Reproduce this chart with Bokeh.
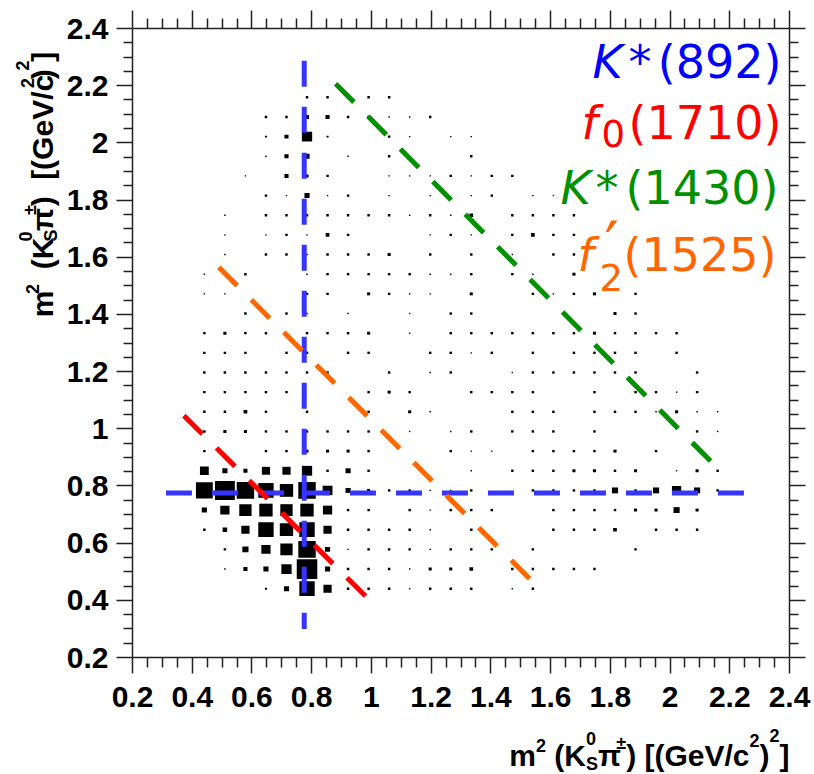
from bokeh.plotting import figure
from bokeh.layouts import row, column
from bokeh.models import (LinearAxis, FixedTicker, CustomJSTickFormatter,
                          Label, Range1d, ColumnDataSource)
from bokeh.embed import file_html
from bokeh.resources import INLINE

# ---------------- binning of the Dalitz histogram ----------------
X_MIN, X_MAX = 0.2, 2.4
Y_MIN, Y_MAX = 0.2, 2.4
N_BINS = 32
MAX_COUNT = 100.0

# axis ticks
MAJOR_TICKS = [0.2, 0.4, 0.6, 0.8, 1.0, 1.2, 1.4, 1.6, 1.8, 2.0, 2.2, 2.4]
MINOR_TICKS = [round(0.2 + 0.05 * k, 2) for k in range(45) if k % 4]

# bin contents, one row of bins per pair of lists (row index = y bin)
row03_cols = [6, 7, 8, 9, 10, 11, 12, 13, 14, 15, 16, 18, 19]
row03_cnts = [10, 25, 75, 40, 12, 12, 12, 7, 12, 12, 12, 7, 12]
row04_cols = [4, 5, 6, 7, 8, 9, 10, 11, 12, 13, 14, 15, 16, 18, 19, 20, 21, 22]
row04_cnts = [7, 20, 25, 50, 100, 25, 12, 12, 12, 7, 15, 15, 18, 12, 12, 12, 12, 12]
row05_cols = [4, 5, 6, 7, 8, 9, 10, 11, 12, 13, 14, 15, 16, 17, 19, 24]
row05_cnts = [12, 30, 45, 60, 85, 25, 7, 12, 12, 12, 7, 12, 12, 12, 12, 12]
row06_cols = [3, 4, 5, 6, 7, 8, 9, 10, 11, 12, 13, 14, 16, 20, 21, 22, 23, 25, 26, 27]
row06_cnts = [12, 22, 40, 75, 65, 75, 40, 12, 12, 12, 12, 7, 12, 12, 12, 12, 18, 12, 12, 12]
row07_cols = [3, 4, 5, 6, 7, 8, 9, 10, 11, 13, 14, 15, 16, 17, 20, 21, 22, 23, 24, 25, 26, 27]
row07_cnts = [25, 45, 60, 65, 60, 65, 45, 12, 12, 12, 7, 12, 12, 12, 12, 12, 12, 12, 15, 15, 30, 15]
row08_cols = [3, 4, 5, 6, 7, 8, 9, 10, 11, 12, 13, 14, 15, 16, 19, 20, 21, 22, 23, 24, 25, 26, 27, 28]
row08_cnts = [82, 97, 85, 75, 65, 85, 48, 25, 15, 12, 12, 7, 7, 12, 12, 12, 12, 12, 30, 12, 30, 45, 30, 12]
row09_cols = [3, 4, 5, 6, 7, 8, 9, 10, 11, 16, 18, 19, 20, 21, 22, 23, 24, 26, 27, 28]
row09_cnts = [43, 25, 20, 40, 40, 50, 12, 25, 12, 7, 12, 12, 12, 15, 15, 12, 15, 7, 15, 12]
row10_cols = [3, 6, 7, 8, 9, 10, 11, 15, 16, 17, 19, 20, 21, 22, 23, 25]
row10_cnts = [12, 12, 12, 15, 15, 15, 12, 12, 7, 7, 12, 12, 12, 12, 15, 12]
row11_cols = [3, 4, 5, 6, 7, 8, 9, 10, 11, 13, 15, 16, 18, 19, 20, 22, 27, 28]
row11_cnts = [12, 15, 15, 12, 12, 12, 12, 12, 12, 7, 7, 12, 12, 12, 12, 12, 12, 7]
row12_cols = [3, 4, 5, 6, 8, 11, 13, 14, 18, 19, 20, 22, 23, 24, 25, 26, 27, 28]
row12_cnts = [12, 12, 18, 12, 12, 12, 15, 7, 12, 12, 12, 12, 12, 12, 7, 15, 7, 7]
row13_cols = [3, 4, 5, 6, 7, 11, 12, 13, 16, 17, 18, 19, 22, 24, 25, 26, 27]
row13_cnts = [12, 12, 12, 12, 12, 12, 15, 12, 12, 12, 12, 12, 12, 12, 12, 7, 12]
row14_cols = [3, 4, 5, 6, 7, 8, 9, 12, 14, 15, 18, 19, 20, 21, 22, 23, 24, 27]
row14_cnts = [12, 12, 12, 12, 12, 12, 12, 12, 7, 12, 7, 12, 12, 12, 12, 12, 12, 12]
row15_cols = [3, 4, 5, 7, 8, 10, 11, 14, 15, 16, 17, 19, 21, 22, 23, 24, 26]
row15_cnts = [12, 12, 12, 12, 12, 12, 12, 12, 12, 7, 12, 12, 12, 12, 12, 12, 12]
row16_cols = [3, 4, 5, 6, 8, 9, 10, 11, 13, 15, 16, 17, 18, 19, 20, 21, 22, 23, 24, 25, 26]
row16_cnts = [12, 15, 12, 12, 12, 12, 12, 15, 7, 12, 12, 12, 12, 12, 12, 12, 15, 12, 12, 12, 12]
row17_cols = [5, 7, 8, 10, 13, 15, 16, 23, 24]
row17_cnts = [12, 12, 7, 7, 7, 12, 12, 15, 12]
row18_cols = [3, 4, 8, 9, 11, 12, 13, 14, 16, 19, 20, 21, 22, 24]
row18_cnts = [7, 7, 12, 12, 15, 12, 7, 7, 15, 12, 7, 12, 15, 12]
row19_cols = [3, 5, 8, 9, 10, 11, 12, 13, 14, 15, 16, 18, 19, 21]
row19_cnts = [7, 12, 7, 12, 12, 12, 12, 12, 7, 7, 12, 12, 7, 15]
row20_cols = [4, 6, 7, 8, 9, 10, 11, 12, 14, 16, 18, 20, 21]
row20_cnts = [7, 12, 12, 7, 12, 12, 12, 15, 12, 12, 7, 12, 12]
row21_cols = [4, 6, 7, 8, 9, 10, 14, 15, 16, 18, 19, 20, 21]
row21_cnts = [7, 7, 12, 7, 18, 12, 7, 12, 7, 12, 18, 12, 12]
row22_cols = [4, 6, 7, 8, 9, 10, 11, 12, 13, 14, 15, 16, 18, 19, 20, 21]
row22_cnts = [7, 12, 12, 12, 12, 12, 12, 12, 7, 12, 7, 18, 12, 12, 12, 12]
row23_cols = [6, 7, 8, 9, 10, 12, 14, 16, 17, 19, 20]
row23_cnts = [12, 7, 25, 7, 12, 7, 7, 7, 12, 7, 7]
row24_cols = [5, 7, 8, 9, 12, 13, 14, 15, 16, 17, 18]
row24_cnts = [7, 20, 15, 12, 7, 7, 7, 12, 7, 12, 12]
row25_cols = [6, 7, 8, 10, 12, 16]
row25_cnts = [7, 20, 25, 7, 12, 12]
row26_cols = [6, 7, 8, 9, 12, 13, 15, 16]
row26_cnts = [10, 20, 50, 10, 12, 7, 7, 7]
row27_cols = [6, 7, 8, 9, 10, 11, 12, 13, 14]
row27_cnts = [12, 12, 20, 20, 12, 12, 7, 7, 12]
row28_cols = [8, 9, 11, 12]
row28_cnts = [12, 12, 12, 12]

ROWS = [
    (3, row03_cols, row03_cnts), (4, row04_cols, row04_cnts), (5, row05_cols, row05_cnts),
    (6, row06_cols, row06_cnts), (7, row07_cols, row07_cnts), (8, row08_cols, row08_cnts),
    (9, row09_cols, row09_cnts), (10, row10_cols, row10_cnts), (11, row11_cols, row11_cnts),
    (12, row12_cols, row12_cnts), (13, row13_cols, row13_cnts), (14, row14_cols, row14_cnts),
    (15, row15_cols, row15_cnts), (16, row16_cols, row16_cnts), (17, row17_cols, row17_cnts),
    (18, row18_cols, row18_cnts), (19, row19_cols, row19_cnts), (20, row20_cols, row20_cnts),
    (21, row21_cols, row21_cnts), (22, row22_cols, row22_cnts), (23, row23_cols, row23_cnts),
    (24, row24_cols, row24_cnts), (25, row25_cols, row25_cnts), (26, row26_cols, row26_cnts),
    (27, row27_cols, row27_cnts), (28, row28_cols, row28_cnts),
]

# ---------------- resonance bands ----------------
KSTAR892_M2 = 0.775
KSTAR892_H_X = [0.312, 2.26]      # horizontal band extent
KSTAR892_V_Y = [2.287, 0.30]      # vertical band extent
F0_1710_X = [0.372, 0.986]
F0_1710_Y = [1.046, 0.409]
F2_1525_X = [0.489, 1.539]
F2_1525_Y = [1.565, 0.466]
KSTAR1430_X = [0.880, 2.147]
KSTAR1430_Y = [2.207, 0.875]

C_BLUE_LINE = "#3535ff"
C_BLUE = "#0000ff"
C_RED = "#ff0000"
C_GREEN = "#009000"
C_ORANGE = "#ff6600"

# ---------------- page geometry (pixels) ----------------
PAGE_W, PAGE_H = 814, 774
FR_L, FR_R, FR_T, FR_B = 132, 789, 28, 657     # frame edges on the page
LEFT_W = 60                                      # strip holding the y title
MAIN_H = 719                                     # height of main figure
FRAME_W, FRAME_H = FR_R - FR_L, FR_B - FR_T
BL = 0.27                                        # label baseline correction (em)

p = figure(frame_width=FRAME_W, frame_height=FRAME_H,
           x_range=Range1d(X_MIN, X_MAX), y_range=Range1d(Y_MIN, Y_MAX),
           output_backend="svg", toolbar_location=None,
           min_border_left=FR_L - LEFT_W, min_border_right=PAGE_W - FR_R,
           min_border_top=FR_T, min_border_bottom=MAIN_H - FR_B,
           background_fill_color="white", border_fill_color="white")
p.outline_line_color = None
p.xgrid.visible = False
p.ygrid.visible = False

bw_x = (X_MAX - X_MIN) / N_BINS
bw_y = (Y_MAX - Y_MIN) / N_BINS
xs, ys, ws, hs = [], [], [], []
for iy, cols, cnts in ROWS:
    for ix, c in zip(cols, cnts):
        xs.append(X_MIN + (ix + 0.5) * bw_x)
        ys.append(Y_MIN + (iy + 0.5) * bw_y)
        ws.append(bw_x * c / MAX_COUNT)
        hs.append(bw_y * c / MAX_COUNT)
src = ColumnDataSource(dict(x=xs, y=ys, w=ws, h=hs))
p.rect(x="x", y="y", width="w", height="h", source=src,
       fill_color="black", line_color=None)

DASH = "26 20"
LW = 5
p.line(KSTAR892_H_X, [KSTAR892_M2, KSTAR892_M2], line_color=C_BLUE_LINE, line_width=LW, line_dash=DASH)
p.line([KSTAR892_M2, KSTAR892_M2], KSTAR892_V_Y, line_color=C_BLUE_LINE, line_width=LW, line_dash=DASH)
p.line(F0_1710_X, F0_1710_Y, line_color=C_RED, line_width=LW, line_dash=DASH)
p.line(F2_1525_X, F2_1525_Y, line_color=C_ORANGE, line_width=LW, line_dash=DASH)
p.line(KSTAR1430_X, KSTAR1430_Y, line_color=C_GREEN, line_width=LW, line_dash=DASH)

# ---------------- axes ----------------
fmt = CustomJSTickFormatter(code="return (Math.round(tick*10)/10).toString();")
blank = CustomJSTickFormatter(code="return '';")
AX_COLOR = "#222222"


def style_axis(ax, tick_out, minor_out, labels=True, standoff=5):
    ax.ticker = FixedTicker(ticks=MAJOR_TICKS, minor_ticks=MINOR_TICKS)
    ax.major_tick_in = 0
    ax.minor_tick_in = 0
    ax.major_tick_out = tick_out
    ax.minor_tick_out = minor_out
    ax.axis_line_color = AX_COLOR
    ax.axis_line_width = 1.5
    ax.major_tick_line_color = AX_COLOR
    ax.major_tick_line_width = 1.5
    ax.minor_tick_line_color = AX_COLOR
    ax.minor_tick_line_width = 1.5
    ax.axis_label = None
    if labels:
        ax.formatter = fmt
        ax.major_label_text_font = "Liberation Sans"
        ax.major_label_text_font_style = "bold"
        ax.major_label_text_font_size = "30px"
        ax.major_label_text_color = "black"
        ax.major_label_standoff = standoff
    else:
        ax.formatter = blank
        ax.major_label_text_font_size = "0px"
        ax.major_label_standoff = 0


style_axis(p.xaxis[0], 16, 10, True, 13)
style_axis(p.yaxis[0], 16, 9, True, 8)
top_ax = LinearAxis()
style_axis(top_ax, 18, 10, False)
p.add_layout(top_ax, "above")
right_ax = LinearAxis()
style_axis(right_ax, 16, 9, False)
p.add_layout(right_ax, "right")

# ---------------- side strips for the axis titles ----------------
pl = figure(width=LEFT_W, height=MAIN_H, x_range=Range1d(0, LEFT_W), y_range=Range1d(0, MAIN_H),
            output_backend="svg", toolbar_location=None, x_axis_type=None, y_axis_type=None,
            min_border=0, outline_line_color=None)
pl.grid.visible = False
pb = figure(width=PAGE_W, height=PAGE_H - MAIN_H, x_range=Range1d(0, PAGE_W),
            y_range=Range1d(0, PAGE_H - MAIN_H),
            output_backend="svg", toolbar_location=None, x_axis_type=None, y_axis_type=None,
            min_border=0, outline_line_color=None)
pb.grid.visible = False

# ---------------- text helpers ----------------
DX = (X_MAX - X_MIN) / FRAME_W
DY = (Y_MAX - Y_MIN) / FRAME_H


def px2x(px):
    return X_MIN + (px - FR_L) * DX


def py2y(py):
    return Y_MAX - (py - FR_T) * DY


def add_text(fig, x, y, text, size, color="black", font="Liberation Sans", style="normal",
             align="left", angle=0.0):
    fig.add_layout(Label(x=x, y=y, text=text, text_font=font, text_font_size=f"{size}px",
                         text_font_style=style, text_color=color, text_align=align,
                         text_baseline="alphabetic", angle=angle))


def add_main(px, py, text, size, color, style="normal", align="left"):
    """text in the main plot with baseline at page pixel (px, py)"""
    add_text(p, px2x(px), py2y(py - BL * size), text, size, color, "DejaVu Sans", style, align)


# Arial/Liberation Sans Bold advance widths (em)
ADV = {'m': 0.889, '2': 0.556, '0': 0.556, ' ': 0.278, '(': 0.333, ')': 0.333,
       '[': 0.333, ']': 0.333, 'K': 0.722, 'S': 0.667, 'G': 0.778, 'e': 0.556,
       'V': 0.667, '/': 0.278, 'c': 0.556, 'π': 0.61, '±': 0.549}


def width(text, size):
    return sum(ADV.get(ch, 0.6) for ch in text) * size


def title_pieces(extra1, extra2):
    # (text, size, raise_px, advance, gap_before)
    return [
        ("m", 30, 0, True, 0),
        ("2", 18, 13, True, 0),
        ("(K", 30, 0, True, 8.3 + extra1),
        ("0", 18, 20, False, 0),
        ("S", 18, -5, True, 0),
        ("π", 30, 0, True, 0),
        ("±", 18, 16, True, 0),
        (")", 30, 0, True, 0),
        ("[(GeV/c", 30, 0, True, 8.3 + extra2),
        ("2", 18, 18, True, 0),
        (")", 30, 0, True, 0),
        ("2", 18, 23, True, 0),
        ("]", 30, 0, True, 0),
    ]


def layout(pieces):
    pos, cur, hold, hold_end = [], 0.0, None, 0.0
    for text, size, r, advance, gap in pieces:
        if hold is None:
            cur += gap
            start = cur
        else:
            start = hold
        pos.append((text, size, r, start))
        w = width(text, size)
        if advance:
            if hold is not None:
                cur = max(hold + w, hold_end)
                hold = None
            else:
                cur = start + w
        else:
            hold = start
            hold_end = start + w
    return pos, cur


# x-axis title (right-aligned to frame end), drawn in the bottom strip
XT_BASE = 763
xp, xtot = layout(title_pieces(0, 0))
x_start_px = FR_R - xtot
for text, size, r, s in xp:
    add_text(pb, x_start_px + s, PAGE_H - (XT_BASE - r - BL * size), text, size, style="bold")

# y-axis title (rotated, ending at frame top), drawn in the left strip
YT_BASE = 50
yp, ytot = layout(title_pieces(10, 12))
y_start_py = FR_T + ytot
for text, size, r, s in yp:
    add_text(pl, YT_BASE - r - BL * size, MAIN_H - (y_start_py - s), text, size, style="bold",
             angle=1.5707963267948966)

# ---------------- resonance labels ----------------
FS = 46
add_main(592, 74, "K", FS, C_BLUE, "italic")
add_main(628, 74, "*", FS, C_BLUE)
add_main(781, 74, "(892)", FS, C_BLUE, align="right")

add_main(581, 135, "f", FS, C_RED, "italic")
add_main(601, 143, "0", 37, C_RED)
add_main(781, 135, "(1710)", FS, C_RED, align="right")

add_main(560, 200, "K", FS, C_GREEN, "italic")
add_main(595, 200, "*", FS, C_GREEN)
add_main(778, 200, "(1430)", FS, C_GREEN, align="right")

add_main(577, 267, "f", FS, C_ORANGE, "italic")
add_main(604, 262, "′", 64, C_ORANGE)
add_main(599, 287, "2", 37, C_ORANGE)
add_main(776, 267, "(1525)", FS, C_ORANGE, align="right")

page = column(row(pl, p), pb)
open("out.html", "w").write(file_html(page, INLINE))
